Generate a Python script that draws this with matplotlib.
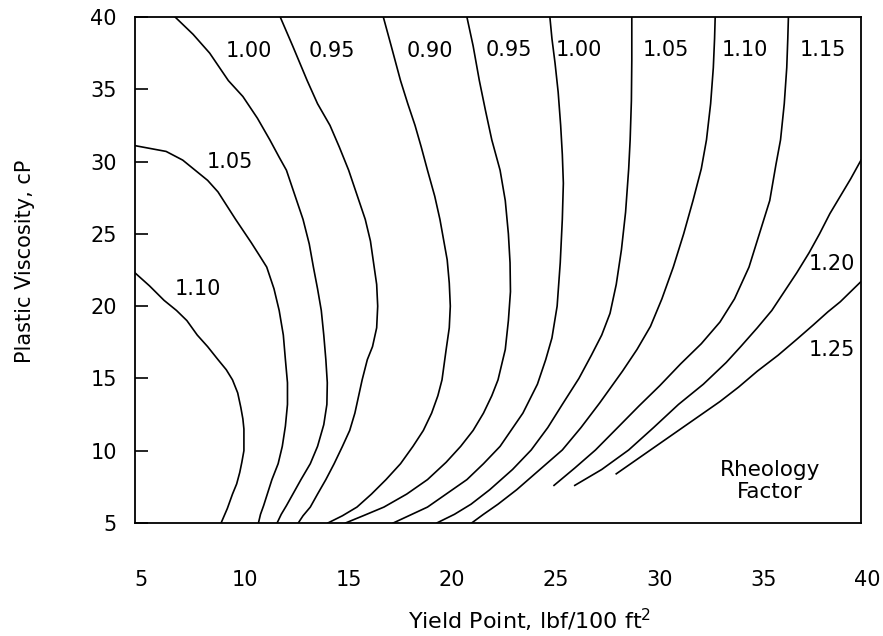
import matplotlib.pyplot as plt
import matplotlib.transforms as mtransforms

plt.rcParams['font.family'] = ['DejaVu Sans']

# rheology factor lines, (yield point, plastic viscosity)
rf110_left = [(5, 22.3), (5.7, 21.4), (6.4, 20.4), (7.0, 19.7), (7.5, 19.0), (8.0, 18.0),
              (8.5, 17.2), (9.0, 16.3), (9.4, 15.6), (9.7, 14.9), (9.95, 14.0), (10.1, 13.0),
              (10.2, 12.2), (10.25, 11.5), (10.25, 10.0), (10.15, 9.2), (10.05, 8.5),
              (9.9, 7.7), (9.7, 7.0), (9.45, 6.0), (9.15, 5)]
rf105_left = [(5, 31.1), (6.5, 30.7), (7.3, 30.1), (7.9, 29.4), (8.5, 28.7), (9.0, 27.9),
              (9.85, 26.0), (10.6, 24.4), (11.0, 23.5), (11.35, 22.7), (11.7, 21.2),
              (11.95, 19.7), (12.15, 18.0), (12.25, 16.3), (12.35, 14.7), (12.35, 13.2),
              (12.25, 11.7), (12.1, 10.3), (11.9, 9.1), (11.6, 8.0), (11.4, 7.1),
              (11.2, 6.2), (11.05, 5.6), (10.95, 5)]
rf100_left = [(6.93, 40), (7.8, 38.8), (8.6, 37.5), (9.5, 35.6), (10.2, 34.5), (10.9, 33.0),
              (11.5, 31.5), (11.95, 30.3), (12.3, 29.4), (12.7, 27.7), (13.1, 26.0),
              (13.4, 24.3), (13.6, 22.7), (13.8, 21.2), (13.98, 19.7), (14.1, 18.0),
              (14.2, 16.3), (14.27, 14.7), (14.25, 13.2), (14.1, 11.8), (13.8, 10.3),
              (13.45, 9.1), (13.0, 8.0), (12.65, 7.1), (12.3, 6.2), (12.05, 5.6), (11.85, 5)]
rf095_left = [(12.0, 40), (12.6, 38), (13.3, 35.6), (13.8, 34), (14.4, 32.5), (14.85, 31),
              (15.3, 29.4), (15.7, 27.7), (16.1, 26.0), (16.35, 24.5), (16.5, 23.0),
              (16.65, 21.5), (16.7, 20.0), (16.65, 18.5), (16.45, 17.2), (16.2, 16.3),
              (15.95, 14.9), (15.6, 12.6), (15.35, 11.4), (15.0, 10.3), (14.6, 9.1),
              (14.2, 8.0), (13.8, 7.0), (13.45, 6.1), (13.1, 5.5), (12.87, 5)]
rf090 = [(16.97, 40), (17.35, 38), (17.8, 35.6), (18.15, 34), (18.5, 32.5), (18.8, 31.0),
         (19.1, 29.4), (19.45, 27.6), (19.7, 26.0), (19.9, 24.4), (20.05, 23.2), (20.15, 21.6),
         (20.2, 20.0), (20.15, 18.5), (20.0, 17.0), (19.8, 14.9), (19.6, 13.8), (19.3, 12.6),
         (18.9, 11.4), (18.4, 10.3), (17.8, 9.1), (17.1, 8.0), (16.4, 7.0), (15.7, 6.1),
         (15.0, 5.5), (14.3, 5)]
rf095_right = [(21.0, 40), (21.3, 38), (21.6, 35.6), (21.9, 33.5), (22.2, 31.5), (22.6, 29.4),
               (22.85, 27.3), (23.0, 25.0), (23.08, 23.0), (23.1, 21.0), (23.0, 19.0),
               (22.85, 17.0), (22.5, 14.9), (22.2, 13.8), (21.8, 12.6), (21.3, 11.4),
               (20.7, 10.3), (20.0, 9.2), (19.1, 8.0), (18.1, 7.0), (17.0, 6.1), (16.0, 5.5),
               (15.15, 5)]
rf100_right = [(25.0, 40), (25.1, 38.5), (25.25, 36.8), (25.4, 34.8), (25.52, 32.5), (25.6, 30.5),
               (25.65, 28.5), (25.6, 26.0), (25.5, 23.0), (25.35, 20.0), (25.1, 17.8), (24.8, 16.3),
               (24.4, 14.6), (23.7, 12.6), (22.6, 10.3), (21.8, 9.1), (21.0, 8.0), (20.0, 7.0),
               (19.1, 6.1), (18.2, 5.5), (17.45, 5)]
rf105_right = [(28.95, 40), (28.95, 37), (28.93, 34.2), (28.87, 31.5), (28.8, 29.5), (28.65, 26.5),
               (28.45, 23.9), (28.2, 21.5), (27.9, 19.5), (27.5, 18.0), (27.0, 16.6),
               (26.4, 15.0), (25.6, 13.2), (24.9, 11.6), (24.1, 10.05), (23.2, 8.7),
               (22.1, 7.3), (21.2, 6.3), (20.4, 5.6), (19.55, 5)]
rf110_right = [(32.97, 40), (32.94, 38.5), (32.88, 36.5), (32.75, 34.0), (32.55, 31.5), (32.3, 29.5),
               (31.9, 27.3), (31.45, 25.0), (30.95, 22.7), (30.4, 20.5), (29.85, 18.6), (29.2, 17.0),
               (28.5, 15.5), (27.4, 13.3), (26.5, 11.6), (25.6, 10.05), (24.6, 8.8),
               (23.4, 7.3), (22.5, 6.3), (21.8, 5.6), (21.23, 5)]
rf115 = [(36.5, 40), (36.47, 38.5), (36.42, 36.5), (36.3, 34.0), (36.12, 31.5), (35.9, 29.8),
         (35.6, 27.3), (35.1, 25.0), (34.6, 22.7), (33.9, 20.5), (33.2, 18.9), (32.3, 17.4),
         (31.3, 16.0), (30.3, 14.5), (29.3, 13.1), (28.2, 11.5), (27.2, 10.05), (26.2, 8.8),
         (25.2, 7.6)]
rf120 = [(40, 30.1), (39.5, 28.8), (39.0, 27.6), (38.5, 26.4), (38.0, 25.0), (37.5, 23.7),
         (36.9, 22.3), (36.3, 21.0), (35.7, 19.7), (35.0, 18.5), (34.2, 17.2), (33.5, 16.1),
         (32.4, 14.6), (31.2, 13.2), (30.0, 11.6), (28.8, 10.05), (27.5, 8.7), (26.2, 7.6)]
rf125 = [(40, 21.7), (39.5, 21.0), (39.0, 20.3), (38.4, 19.6), (37.7, 18.7), (36.9, 17.7),
         (36.0, 16.6), (35.0, 15.5), (34.1, 14.4), (33.2, 13.4), (32.2, 12.4), (31.2, 11.4),
         (30.3, 10.5), (29.3, 9.5), (28.2, 8.4)]

curves = [rf110_left, rf105_left, rf100_left, rf095_left, rf090, rf095_right,
          rf100_right, rf105_right, rf110_right, rf115, rf120, rf125]

# line labels: text, x, y
label_text = ['1.00', '0.95', '0.90', '0.95', '1.00', '1.05', '1.10', '1.15',
              '1.05', '1.10', '1.20', '1.25']
label_x = [10.5, 14.5, 19.2, 23.0, 26.4, 30.6, 34.4, 38.15, 9.55, 8.05, 38.6, 38.6]
label_y = [37.65, 37.65, 37.65, 37.75, 37.75, 37.75, 37.75, 37.75, 29.95, 21.2, 22.9, 16.95]

xticks = [5, 10, 15, 20, 25, 30, 35, 40]
yticks = [5, 10, 15, 20, 25, 30, 35, 40]

fig = plt.figure(figsize=(8.83, 6.36), dpi=100)
ax = fig.add_axes([0.1529, 0.1777, 0.8222, 0.7956])

for c in curves:
    xs = [p[0] for p in c]
    ys = [p[1] for p in c]
    ax.plot(xs, ys, color='black', lw=1.2)

for t, x, y in zip(label_text, label_x, label_y):
    ax.text(x, y, t, ha='center', va='center', fontsize=15)

ax.text(35.6, 7.9, 'Rheology\nFactor', ha='center', va='center', fontsize=15.5, linespacing=1.15)

ax.set_xlim(5, 40)
ax.set_ylim(5, 40)
ax.set_xticks(xticks)
ax.set_yticks(yticks)
ax.tick_params(axis='x', length=0, pad=34, labelsize=15)
ax.tick_params(axis='y', direction='in', length=9, width=1.2, pad=13, labelsize=15)
# the x numbers sit a little right of their grid positions in the original
shift = mtransforms.ScaledTranslation(6 / 100, 0, fig.dpi_scale_trans)
for lbl in ax.get_xticklabels():
    lbl.set_transform(lbl.get_transform() + shift)
for s in ax.spines.values():
    s.set_linewidth(1.3)

ax.set_xlabel('Yield Point, lbf/100 ft$^2$', fontsize=16)
ax.xaxis.set_label_coords(0.543, -0.165)
ax.set_ylabel('Plastic Viscosity, cP', fontsize=15)
ax.yaxis.set_label_coords(-0.138, 0.518)

fig.savefig('out.png', dpi=100)
